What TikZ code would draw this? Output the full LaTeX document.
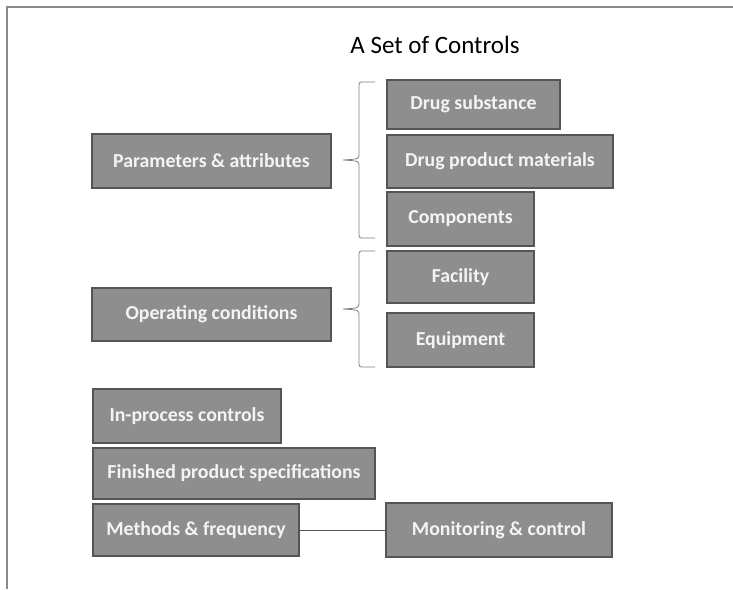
\documentclass[tikz,border=0pt]{standalone}
\usepackage{fontspec}
\setmainfont{Carlito}
\usepackage{tikz}
\usetikzlibrary{positioning}
\definecolor{CtrlFill}{HTML}{8E8E8E}
\definecolor{CtrlEdge}{HTML}{555555}
\definecolor{CtrlText}{HTML}{F4F4F4}
\definecolor{FrameGray}{HTML}{8A8A8A}

\begin{document}
\begin{tikzpicture}[x=1pt,y=-1pt,
  ctrlbox/.style={draw=CtrlEdge, line width=1.2pt, fill=CtrlFill, text=CtrlText,
    font=\bfseries\fontsize{19.8}{22}\selectfont, inner sep=0pt, anchor=center},
  curly/.style={draw=CtrlEdge!75, line width=0.8pt}]
\useasboundingbox (0,0) rectangle (733,589);
% page frame, only top and left edges show
\draw[FrameGray, line width=1.6pt] (733,7) -- (7,7) -- (7,589);
\node (title) at (435,45) {\fontsize{25}{28}\selectfont A Set of Controls};
% first group
\node[ctrlbox, minimum width=239, minimum height=54] (params) at (211.5,161) {Parameters \& attributes};
\node[ctrlbox, minimum width=173, minimum height=49] (substance) at (473.5,104.5) {Drug substance};
\node[ctrlbox, minimum width=226, minimum height=53] (materials) at (500,161.5) {Drug product materials};
\node[ctrlbox, minimum width=147, minimum height=54] (components) at (460.5,219) {Components};
% second group
\node[ctrlbox, minimum width=239, minimum height=53] (operating) at (211.5,314.5) {Operating conditions};
\node[ctrlbox, minimum width=147, minimum height=52] (facility) at (460.5,277) {Facility};
\node[ctrlbox, minimum width=147, minimum height=54] (equipment) at (460.5,340) {Equipment};
% curly braces: top, bottom, tip
\foreach \t/\b/\m in {82/238/160, 251/367/309} {
  \draw[curly] (375,\t) -- (364,\t) .. controls (359,\t) .. (359,\t+6)
    -- (359,\m-6) .. controls (359,\m-1) .. (343,\m)
    .. controls (359,\m+1) .. (359,\m+6) -- (359,\b-6)
    .. controls (359,\b) .. (364,\b) -- (375,\b);
}
% stacked controls
\node[ctrlbox, minimum width=188, minimum height=54] (inprocess) at (187,416) {In-process controls};
\node[ctrlbox, minimum width=282, minimum height=51] (finished) at (234,473.5) {Finished product specifications};
\node[ctrlbox, minimum width=206, minimum height=52] (methods) at (196,530) {Methods \& frequency};
\node[ctrlbox, minimum width=226, minimum height=54] (monitor) at (499,530) {Monitoring \& control};
\draw[CtrlEdge, line width=0.8pt] (methods) -- (monitor);
\end{tikzpicture}
\end{document}
